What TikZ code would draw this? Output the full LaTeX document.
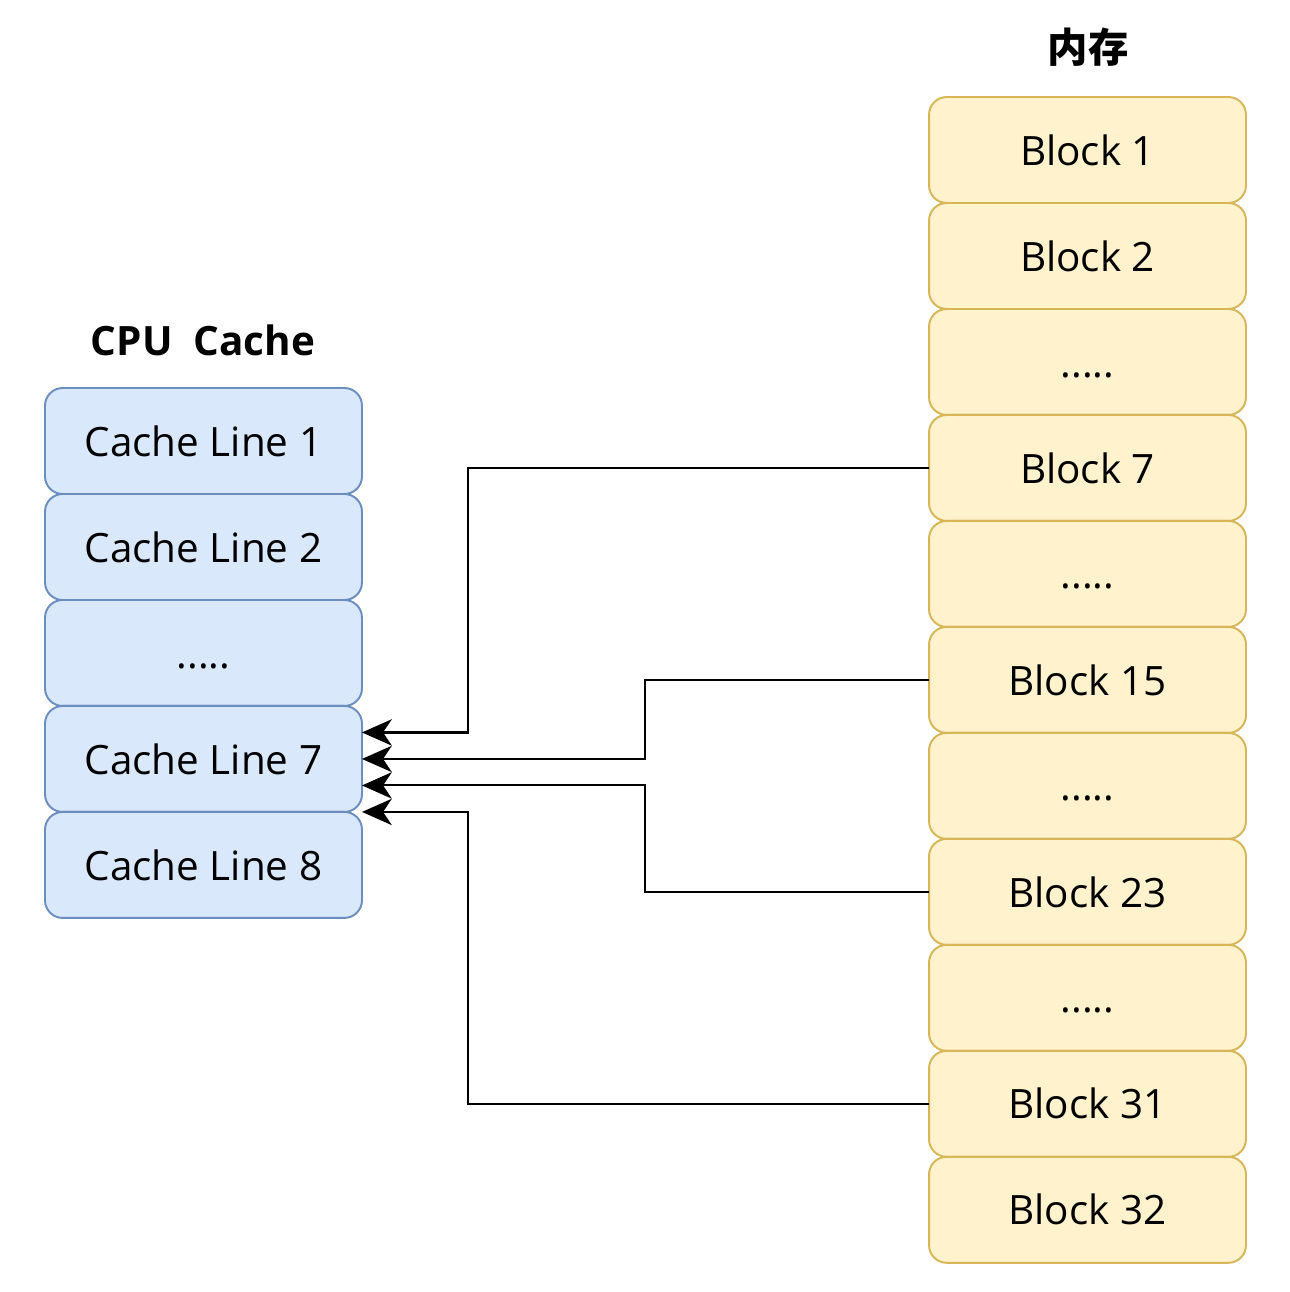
\documentclass[tikz,border=0pt]{standalone}
\usepackage{fontspec}
\setmainfont{Open Sans}
\newfontfamily\cjk{Noto Sans CJK SC}
\usetikzlibrary{positioning,calc,arrows.meta}

\definecolor{cachefill}{HTML}{DAE8FC}
\definecolor{cachedraw}{HTML}{6C8EBF}
\definecolor{memfill}{HTML}{FFF2CC}
\definecolor{memdraw}{HTML}{D6B656}

\newcommand{\skipdots}{\vphantom{Bk}.....}

\tikzset{
  cell/.style={draw, rounded corners=10pt, line width=1.1pt, outer sep=0pt,
    minimum width=6.34cm, minimum height=2.12cm, inner sep=0pt,
    font=\fontsize{23}{28}\selectfont},
  cacheline/.style={cell, fill=cachefill, draw=cachedraw},
  memblock/.style={cell, fill=memfill, draw=memdraw},
  title/.style={font=\fontsize{23}{28}\selectfont\bfseries},
  link/.style={draw, line width=1.2pt, -{Stealth[length=17pt,width=15pt,inset=5pt]}}
}

\begin{document}
\begin{tikzpicture}[x=0.02cm, y=-0.02cm]
\useasboundingbox (0,0) rectangle (1290,1292);

\def \gap {0pt}

% titles
\node[title] (cachetitle) at (203,340) {CPU\ \ Cache};
\node[title, font=\fontsize{23}{28}\selectfont\cjk\bfseries] (memtitle) at (1088,47) {内存};

% cache lines
\node[cacheline] (c1) at (203.5,441) {Cache Line 1};
\foreach \s/\t [remember=\s as \p (initially 1)] in {2/Cache Line 2, 3/\skipdots, 4/Cache Line 7, 5/Cache Line 8}
{
  \node[cacheline, below=\gap of c\p] (c\s) {\t};
}

% memory blocks
\node[memblock] (m1) at (1087.5,150) {Block 1};
\foreach \s/\t [remember=\s as \p (initially 1)] in {2/Block 2, 3/\skipdots, 4/Block 7, 5/\skipdots, 6/Block 15, 7/\skipdots, 8/Block 23, 9/\skipdots, 10/Block 31, 11/Block 32}
{
  \node[memblock, below=\gap of m\p] (m\s) {\t};
}

% arrow targets on Cache Line 7
\coordinate (t1) at ($(c4.north east)!0.25!(c4.south east)$);
\coordinate (t2) at ($(c4.north east)!0.5!(c4.south east)$);
\coordinate (t3) at ($(c4.north east)!0.75!(c4.south east)$);
\coordinate (t4) at (c4.south east);

\draw[link] (m4.west) -| ($(t1)+(106,0)$) -- (t1);
\draw[link] (m6.west) -| ($(t2)+(283,0)$) -- (t2);
\draw[link] (m8.west) -| ($(t3)+(283,0)$) -- (t3);
\draw[link] (m10.west) -| ($(t4)+(106,0)$) -- (t4);
\end{tikzpicture}
\end{document}
